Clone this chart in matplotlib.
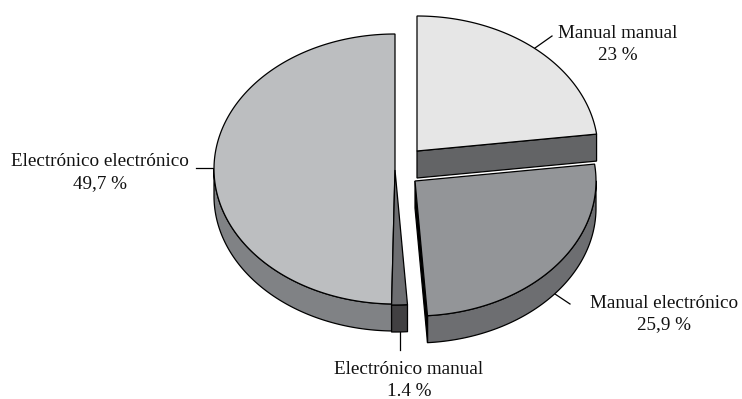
import numpy as np
import matplotlib
matplotlib.use('Agg')
import matplotlib.pyplot as plt
from matplotlib.patches import Polygon

categories = ['Manual manual', 'Manual electrónico', 'Electrónico manual', 'Electrónico electrónico']
values = [23, 25.9, 1.4, 49.7]
value_labels = ['23 %', '25,9 %', '1.4 %', '49,7 %']

top_colors = ['#e6e6e6', '#939598', '#6d6e71', '#bcbec0']
side_colors = ['#636466', '#6d6e71', '#414042', '#808285']
centers = [(417, 151), (415, 181), (395, 170), (395, 169)]
label_pos = [(618, 33), (664, 303), (409, 370), (100, 162)]
label_gap = [22, 22, 21, 22]
leaders = [((535, 48), (552, 36)), ((555, 294), (570, 304)), ((400, 332), (400, 350)), ((196, 168), (214, 168))]

rx = 181
ry = 135
depth = 27
lw = 0.9

plt.rcParams['font.family'] = ['Liberation Serif', 'DejaVu Serif']

fig = plt.figure(figsize=(7.42, 3.99), dpi=100)
ax = fig.add_axes([0, 0, 1, 1])
ax.set_xlim(0, 742)
ax.set_ylim(399, 0)
ax.axis('off')


def rim(c, a, b, dy=0):
    t = np.radians(np.linspace(a, b, max(int(abs(b - a) * 2), 2)))
    return np.column_stack([c[0] + rx * np.sin(t), c[1] - ry * np.cos(t) + dy])


# slice angles, clockwise from the top
edges = np.concatenate([[0], np.cumsum(values)]) * 3.6

for i in [3, 2, 1, 0]:
    c = centers[i]
    a, b = edges[i], edges[i + 1]
    # outer wall, only the front half shows
    fa, fb = max(a, 90), min(b, 270)
    if fa < fb:
        wall = np.vstack([rim(c, fa, fb), rim(c, fa, fb, depth)[::-1]])
        ax.add_patch(Polygon(wall, fc=side_colors[i], ec='black', lw=lw, joinstyle='round', zorder=i * -3 + 10))
    # cut faces
    if i == 0:
        end = rim(c, b, b)[0]
        face = [c, end, (end[0], end[1] + depth), (c[0], c[1] + depth)]
        ax.add_patch(Polygon(face, fc=side_colors[i], ec='black', lw=lw, zorder=i * -3 + 10))
    if i == 1:
        end = rim(c, b, b)[0]
        face = [c, end, (end[0], end[1] + depth), (c[0], c[1] + depth)]
        ax.add_patch(Polygon(face, fc='black', ec='black', lw=lw, zorder=i * -3 + 10))
    # top face
    top = np.vstack([[c], rim(c, a, b)])
    ax.add_patch(Polygon(top, fc=top_colors[i], ec='black', lw=lw, zorder=i * -3 + 11))

for (p, q) in leaders:
    ax.plot([p[0], q[0]], [p[1], q[1]], color='black', lw=lw, zorder=0)

for name, val, pos, gap in zip(categories, value_labels, label_pos, label_gap):
    ax.text(pos[0], pos[1], name, ha='center', va='center', fontsize=13.8, color='#111111')
    ax.text(pos[0], pos[1] + gap, val, ha='center', va='center', fontsize=13.8, color='#111111')

fig.savefig('out.png', dpi=100)
